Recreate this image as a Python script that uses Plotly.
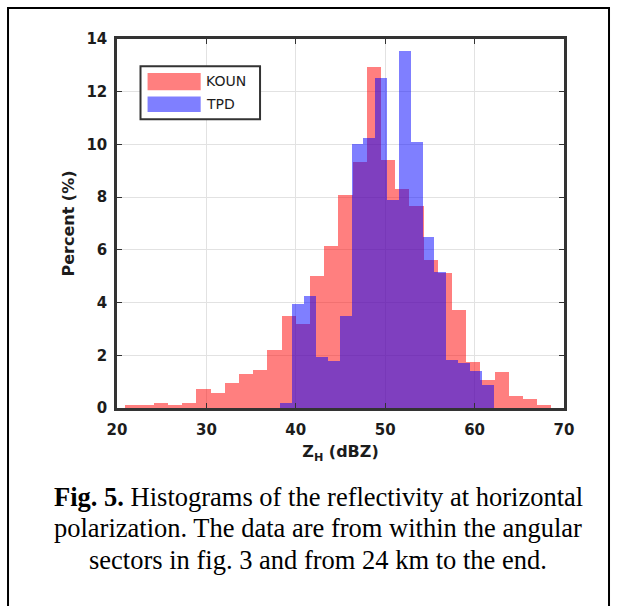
import numpy as np
import plotly.graph_objects as go

# Histogram of KOUN reflectivity (percent per bin)
koun_bin_start = 20.94
koun_bin_width = 1.588
koun_percent = [0.10, 0.10, 0.20, 0.10, 0.20, 0.71, 0.58, 0.93, 1.28, 1.46,
                2.19, 3.49, 3.17, 5.02, 6.13, 8.08, 9.35, 12.95, 9.40, 8.30,
                7.68, 5.60, 5.12, 3.71, 1.75, 1.05, 1.37, 0.44, 0.36, 0.10]

# Histogram of TPD reflectivity (percent per bin)
tpd_bin_start = 38.28
tpd_bin_width = 1.3255
tpd_percent = [0.20, 3.93, 4.26, 1.92, 1.79, 3.49, 10.03, 10.23, 12.52, 7.90,
               13.55, 10.09, 6.50, 5.17, 1.84, 1.69, 1.41, 0.86]

x_ticks = [20, 30, 40, 50, 60, 70]
y_ticks = [0, 2, 4, 6, 8, 10, 12, 14]

caption_lines = [
    "<b>Fig. 5.</b> Histograms of the reflectivity at horizontal",
    "polarization. The data are from within the angular",
    "sectors in fig. 3 and from 24 km to the end.",
]

koun_color = "rgba(255,0,0,0.5)"
tpd_color = "rgba(0,0,255,0.5)"


def centers(start, width, n):
    return start + width * (np.arange(n) + 0.5)


fig = go.Figure()
fig.add_trace(go.Bar(
    x=centers(koun_bin_start, koun_bin_width, len(koun_percent)),
    y=koun_percent, width=koun_bin_width, name="KOUN",
    marker=dict(color=koun_color, line=dict(width=0)), showlegend=False,
))
fig.add_trace(go.Bar(
    x=centers(tpd_bin_start, tpd_bin_width, len(tpd_percent)),
    y=tpd_percent, width=tpd_bin_width, name="TPD",
    marker=dict(color=tpd_color, line=dict(width=0)), showlegend=False,
))

axis_col = "#333333"
label_col = "#1c1c1c"
tick_font = dict(family="DejaVu Sans", size=15, color=label_col, weight="bold")
title_font = dict(family="DejaVu Sans", size=16, color=label_col, weight="bold")

fig.update_layout(
    width=617, height=606,
    margin=dict(l=117, r=53, t=39, b=198),
    paper_bgcolor="white", plot_bgcolor="white",
    barmode="overlay", bargap=0,
    xaxis=dict(range=[20, 70], tickvals=x_ticks, ticks="inside", ticklen=5,
               tickcolor=axis_col, showline=True, linecolor=axis_col, linewidth=2.5,
               mirror="ticks", showgrid=True, gridcolor="#e2e2e2", gridwidth=1,
               zeroline=False, tickfont=tick_font, ticklabelstandoff=6,
               title=dict(text="Z<sub>H</sub> (dBZ)", standoff=9, font=title_font)),
    yaxis=dict(range=[0, 14], tickvals=y_ticks, ticks="inside", ticklen=5,
               tickcolor=axis_col, showline=True, linecolor=axis_col, linewidth=2.5,
               mirror="ticks", showgrid=True, gridcolor="#e2e2e2", gridwidth=1,
               zeroline=False, tickfont=tick_font, ticklabelstandoff=4,
               title=dict(text="Percent (%)", standoff=8, font=title_font)),
)

# Legend box drawn inside the axes
shapes = [
    dict(type="rect", xref="x", yref="y", x0=22.63, x1=36.0, y0=10.96, y1=12.97,
         line=dict(color=axis_col, width=2), fillcolor="white", layer="above"),
    dict(type="rect", xref="x", yref="y", x0=23.42, x1=29.36, y0=12.06, y1=12.71,
         line=dict(width=0), fillcolor=koun_color, layer="above"),
    dict(type="rect", xref="x", yref="y", x0=23.42, x1=29.36, y0=11.23, y1=11.82,
         line=dict(width=0), fillcolor=tpd_color, layer="above"),
    # outer frame around the figure
    dict(type="path", xref="paper", yref="paper",
         path="M -0.2438,-0.56 L -0.2438,1.084 L 1.1007,1.084 L 1.1007,-0.56",
         line=dict(color="black", width=2)),
]

legend_font = dict(family="DejaVu Sans", size=14, color=label_col)
annotations = [
    dict(xref="x", yref="y", x=29.75, y=12.39, text="KOUN", showarrow=False,
         xanchor="left", yanchor="middle", font=legend_font),
    dict(xref="x", yref="y", x=29.75, y=11.53, text="TPD", showarrow=False,
         xanchor="left", yanchor="middle", font=legend_font),
]
caption_y = [-0.2412, -0.3252, -0.4119]
for line, yy in zip(caption_lines, caption_y):
    annotations.append(dict(
        xref="paper", yref="paper", x=(318 - 117) / 447, y=yy, text=line,
        showarrow=False, xanchor="center", yanchor="middle",
        font=dict(family="Liberation Serif", size=26.5, color="black")))

fig.update_layout(shapes=shapes, annotations=annotations)
fig.write_html("out.html")
